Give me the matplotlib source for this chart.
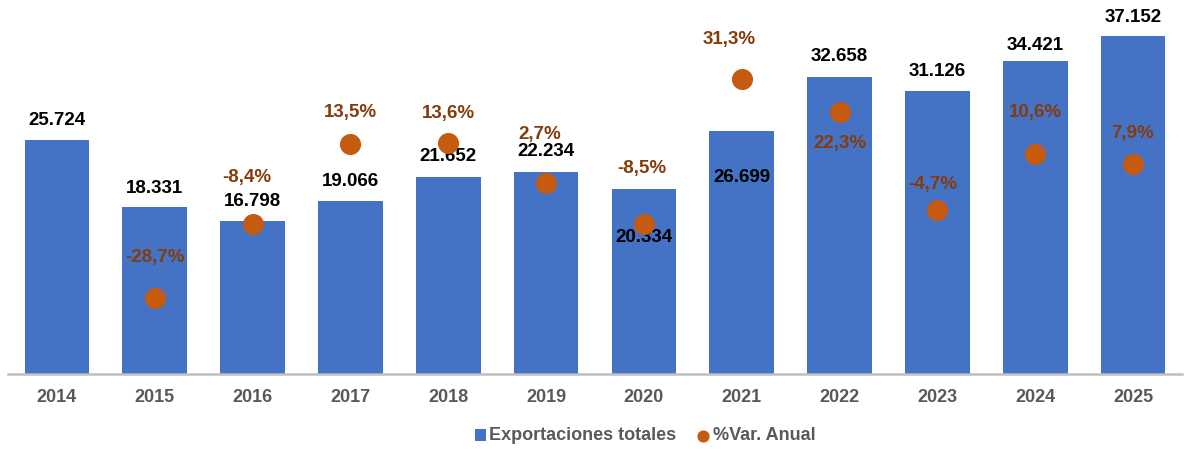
import numpy as np
import matplotlib.pyplot as plt

plt.rcParams['font.family'] = ['Liberation Sans', 'DejaVu Sans']

# data
years = ['2014', '2015', '2016', '2017', '2018', '2019',
         '2020', '2021', '2022', '2023', '2024', '2025']
exports = [25.724, 18.331, 16.798, 19.066, 21.652, 22.234,
           20.334, 26.699, 32.658, 31.126, 34.421, 37.152]
var_pct = [np.nan, -28.7, -8.4, 13.5, 13.6, 2.7,
           -8.5, 31.3, 22.3, -4.7, 10.6, 7.9]
export_labels = ['25.724', '18.331', '16.798', '19.066', '21.652', '22.234',
                 '20.334', '26.699', '32.658', '31.126', '34.421', '37.152']
pct_labels = ['', '-28,7%', '-8,4%', '13,5%', '13,6%', '2,7%',
              '-8,5%', '31,3%', '22,3%', '-4,7%', '10,6%', '7,9%']

# label offsets in pixels (dx, dy) relative to the mark
bar_off = [(0, 19), (0, 19), (0, 20), (0, 19), (0, 20), (0, 20),
           (0, -49), (0, -46), (0, 20), (0, 19), (0, 15), (0, 18)]
pct_off = [(0, 0), (0, 40), (-6, 46), (0, 31), (0, 30), (-6, 49),
           (-2, 56), (-13, 39), (0, -32), (-5, 26), (0, 42), (0, 31)]

BAR_COLOR = '#4472C4'
DOT_COLOR = '#C55A11'
PCT_TEXT = '#843C0C'
GREY = '#595959'

fig = plt.figure(figsize=(12.02, 4.49), dpi=100)
ax = fig.add_axes([8 / 1202, 75 / 449, 1174 / 1202, 374 / 449])
x = np.arange(len(years))

bars = ax.bar(x, exports, width=0.66, color=BAR_COLOR, zorder=2,
              label='Exportaciones totales')
ax.set_xlim(-0.5, len(years) - 0.5)
ax.set_ylim(0, 41.1)
ax.set_yticks([])
ax.set_xticks(x)
ax.set_xticklabels(years, fontsize=13, fontweight='bold', color=GREY)
ax.tick_params(axis='x', length=0, pad=11)
for s in ['top', 'right', 'left']:
    ax.spines[s].set_visible(False)
ax.spines['bottom'].set_color('#BFBFBF')
ax.spines['bottom'].set_linewidth(1.8)

for i, v in enumerate(exports):
    ax.annotate(export_labels[i], (x[i], v), xytext=bar_off[i],
                textcoords='offset pixels', ha='center', va='center',
                fontsize=13.5, fontweight='bold', color='black', zorder=5)

ax2 = ax.twinx()
ax2.set_ylim(-49.6, 52.9)
ax2.axis('off')
ax2.scatter(x, var_pct, s=200, color=DOT_COLOR, zorder=3,
            label='%Var. Anual')
for i, v in enumerate(var_pct):
    if np.isnan(v):
        continue
    ax2.annotate(pct_labels[i], (x[i], v), xytext=pct_off[i],
                 textcoords='offset pixels', ha='center', va='center',
                 fontsize=13.5, fontweight='bold', color=PCT_TEXT)

h1, l1 = ax.get_legend_handles_labels()
h2, l2 = ax2.get_legend_handles_labels()
leg = fig.legend(h1 + h2, l1 + l2, loc='center', bbox_to_anchor=(645 / 1202, 1 - 436 / 449),
                 ncol=2, frameon=False, handlelength=0.5, handletextpad=0.3,
                 columnspacing=1.2, markerscale=0.55,
                 prop={'size': 13, 'weight': 'bold'})
for t in leg.get_texts():
    t.set_color(GREY)
for h in leg.legend_handles:
    if hasattr(h, 'set_height'):
        h.set_height(8)
        h.set_width(8)

fig.savefig('out.png', dpi=100)
